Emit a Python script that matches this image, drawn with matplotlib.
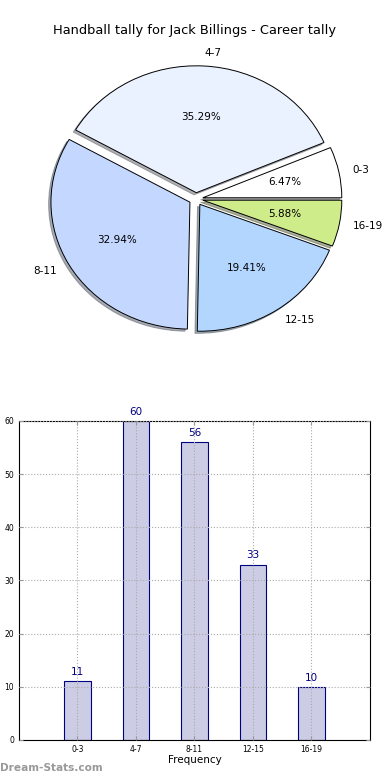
import matplotlib
matplotlib.use("Agg")
import matplotlib.pyplot as plt

# data
groups = ["0-3", "4-7", "8-11", "12-15", "16-19"]
counts = [11, 60, 56, 33, 10]
pie_colors = ["#ffffff", "#eaf1ff", "#c4d8ff", "#b3d6ff", "#cfec8a"]

fig = plt.figure(figsize=(3.9, 7.8), dpi=100)

# pie on top
ax1 = fig.add_axes([0.0, 0.5385, 1.0, 0.41])
wedges, texts, autotexts = ax1.pie(
    counts, labels=groups, colors=pie_colors, explode=[0.05] * len(counts),
    autopct="%.2f%%", shadow={"ox": -0.012, "oy": -0.012, "shade": 0.6}, startangle=0,
    wedgeprops={"edgecolor": "black", "linewidth": 0.7},
    textprops={"fontsize": 7.5},
)
ax1.set_aspect("auto")
ax1.set_xlim(-1.410, 1.396)
ax1.set_ylim(-1.268, 1.252)
ax1.axis("off")
fig.text(0.5, 0.961, "Handball tally for Jack Billings - Career tally",
         ha="center", va="center", fontsize=9.4)

# bars below
ax2 = fig.add_axes([0.0487, 0.0513, 0.9, 0.409])
x = range(len(groups))
bars = ax2.bar(x, counts, width=0.45, facecolor=(0, 0, 0.5, 0.2),
               edgecolor="navy", linewidth=0.8)
for xi, v in zip(x, counts):
    ax2.text(xi, v + 0.8, str(v), ha="center", va="bottom", color="navy", fontsize=7.5)
ax2.set_xlim(-1, 5)
ax2.set_ylim(0, 60)
ax2.set_xticks(list(x))
ax2.set_xticklabels(groups)
ax2.set_yticks(range(0, 61, 10))
ax2.tick_params(labelsize=5.5, direction="in", top=True, right=True, length=3, color="#999999")
ax2.grid(True, linestyle=":", color="#aaaaaa", linewidth=0.8)
ax2.set_axisbelow(False)
ax2.set_xlabel("Frequency", fontsize=7.5, labelpad=1)

fig.text(0.0, 0.012, "Dream-Stats.com", color="#999999", fontsize=7.6, fontweight="bold")

fig.savefig("out.png", dpi=100)
